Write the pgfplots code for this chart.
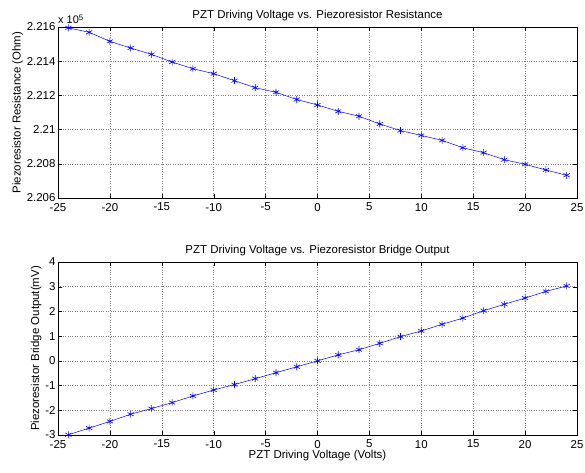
\documentclass[border=0pt]{standalone}
\usepackage{pgfplots}
\pgfplotsset{compat=1.18}
\usepackage{fontspec}
\setmainfont{Liberation Sans}
\begin{document}
\begin{tikzpicture}
\path[use as bounding box] (0bp,0bp) rectangle (585bp,473bp);
\pgfplotsset{
  mstyle/.style={
    scale only axis,
    width=519bp,
    xmin=-25, xmax=25,
    xtick={-25,-20,...,25},
    tick align=inside,
    major tick length=4bp,
    grid=major,
    major grid style={dotted, gray, line width=0.5pt},
    axis line style={line width=0.5pt},
    every tick/.style={black, line width=0.4pt},
    tick label style={font=\fontsize{11.5}{13}\selectfont},
    label style={font=\fontsize{11.5}{13}\selectfont},
    title style={font=\fontsize{11.5}{13}\selectfont, yshift=-3bp},
    /pgf/number format/assume math mode=true,
    xticklabel style={yshift=-1.5bp},
    yticklabel style={xshift=1bp},
  },
  dstyle/.style={blue, line width=0.5pt, mark=asterisk, mark size=3.5bp, mark options={solid, line width=0.6pt}},
}
\begin{axis}[mstyle,
  at={(58bp,275bp)}, anchor=south west,
  height=171bp,
  ymin=2.206, ymax=2.216,
  ytick={2.206,2.208,2.210,2.212,2.214,2.216},
  yticklabels={2.206,2.208,2.21,2.212,2.214,2.216},
  scaled y ticks=false,
  title={PZT Driving Voltage vs. Piezoresistor Resistance},
  ylabel={Piezoresistor Resistance (Ohm)},
  ylabel style={yshift=-3bp},
  clip=false,
]
\addplot[dstyle] coordinates {
(-24,2.21595) (-22,2.21569) (-20,2.21516) (-18,2.21477) (-16,2.21440)
(-14,2.21395) (-12,2.21356) (-10,2.21327) (-8,2.21286) (-6,2.21245)
(-4,2.21218) (-2,2.21176) (0,2.21144) (2,2.21107) (4,2.21078)
(6,2.21033) (8,2.20994) (10,2.20966) (12,2.20937) (14,2.20894)
(16,2.20865) (18,2.20824) (20,2.20797) (22,2.20764) (24,2.20733)
};
\node[anchor=south west, font=\fontsize{11}{13}\selectfont, inner sep=0bp] at ([yshift=3bp]rel axis cs:0,1) {x 10\raisebox{0.6ex}{\fontsize{8}{9}\selectfont 5}};
\end{axis}
\begin{axis}[mstyle,
  at={(58bp,38bp)}, anchor=south west,
  height=173bp,
  ymin=-3, ymax=4,
  ytick={-3,-2,...,4},
  title={PZT Driving Voltage vs. Piezoresistor Bridge Output},
  ylabel={Piezoresistor Bridge Output(mV)},
  xlabel={PZT Driving Voltage (Volts)},
  ylabel style={yshift=-3bp},
  xlabel style={yshift=5bp},
  clip=false,
]
\addplot[dstyle] coordinates {
(-24,-2.99) (-22,-2.72) (-20,-2.45) (-18,-2.16) (-16,-1.93)
(-14,-1.69) (-12,-1.42) (-10,-1.18) (-8,-0.96) (-6,-0.72)
(-4,-0.48) (-2,-0.24) (0,0.00) (2,0.24) (4,0.45)
(6,0.71) (8,0.98) (10,1.21) (12,1.48) (14,1.73)
(16,2.03) (18,2.29) (20,2.54) (22,2.81) (24,3.03)
};
\end{axis}
\end{tikzpicture}
\end{document}
